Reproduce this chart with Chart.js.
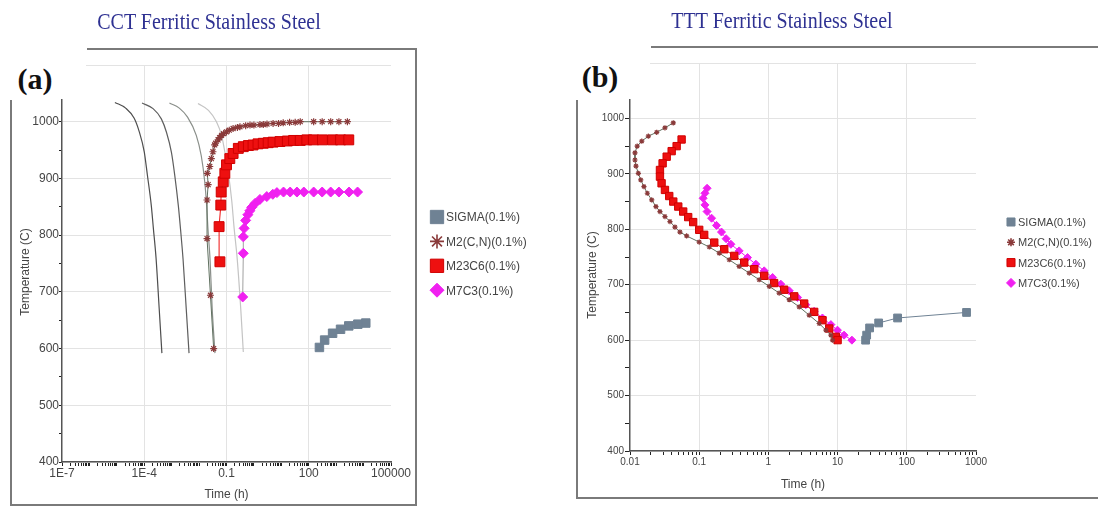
<!DOCTYPE html>
<html>
<head>
<meta charset="utf-8">
<script src="https://cdn.jsdelivr.net/npm/chart.js@4.4.1/dist/chart.umd.min.js"></script>
<style>
  html, body { margin: 0; padding: 0; background: #fff; }
  #page { position: relative; width: 1098px; height: 509px; overflow: hidden; background: #fff; }
  canvas { position: absolute; top: 0; }
  .edge { position: absolute; background: #7a7a7a; }
  .patch { position: absolute; background: #fff; }
  .tag { position: absolute; transform: translate(-50%, -50%); font-family: 'Liberation Serif', 'Times New Roman', serif; font-weight: bold; font-size: 30px; color: #111; }
  .title { position: absolute; transform: translate(-50%, -50%) scaleY(1.12); white-space: nowrap; font-family: 'Liberation Serif', 'Times New Roman', serif; font-size: 20px; color: #2e3192; }
  .ytitle { position: absolute; transform: translate(-50%, -50%) rotate(-90deg); white-space: nowrap; font-family: 'Liberation Sans', Arial, sans-serif; font-size: 12px; color: #444; }
</style>
</head>
<body>
<div id="page">
  <canvas id="cct" width="560" height="509" style="left:0"></canvas>
  <canvas id="ttt" width="538" height="509" style="left:560px"></canvas>

  <div class="patch" style="left:0;top:51px;width:86px;height:48px"></div>
  <div class="patch" style="left:560px;top:49px;width:90px;height:50px"></div>

  <div class="edge" style="left:87px;top:48px;width:330px;height:2px"></div>
  <div class="edge" style="left:415px;top:48px;width:2px;height:458px"></div>
  <div class="edge" style="left:10px;top:504px;width:407px;height:2px"></div>
  <div class="edge" style="left:10px;top:100px;width:2px;height:406px"></div>

  <div class="edge" style="left:651px;top:46px;width:447px;height:2px"></div>
  <div class="edge" style="left:576px;top:100px;width:2px;height:399px"></div>
  <div class="edge" style="left:576px;top:497px;width:522px;height:2px"></div>

  <div class="title" style="left:209px;top:22px">CCT Ferritic Stainless Steel</div>
  <div class="title" style="left:782px;top:21px">TTT Ferritic Stainless Steel</div>
  <div class="tag" style="left:35px;top:79px">(a)</div>
  <div class="tag" style="left:600px;top:77px">(b)</div>
  <div class="ytitle" style="left:25px;top:272px">Temperature (C)</div>
  <div class="ytitle" style="left:592px;top:275px">Temperature (C)</div>
</div>

<script>
// series names (legend order)
const seriesNames = ["SIGMA(0.1%)", "M2(C,N)(0.1%)", "M23C6(0.1%)", "M7C3(0.1%)"];

// axis ticks
const tempTicks = [400, 500, 600, 700, 800, 900, 1000];
const cctTickValues = [1e-7, 1e-4, 0.1, 100, 1e5];
const cctTickLabels = ["1E-7", "1E-4", "0.1", "100", "100000"];
const cctGridValues = [1e-4, 0.1, 100];
const tttTickValues = [0.01, 0.1, 1, 10, 100, 1000];
const tttTickLabels = ["0.01", "0.1", "1", "10", "100", "1000"];
const tttGridValues = [0.1, 1, 10, 100];

// CCT: [time (h), temperature (C)]
const cctCool1 = [[8.5e-6, 1034], [2.1e-5, 1024], [4.3e-5, 1006], [6.6e-5, 982], [1.0e-4, 947], [1.3e-4, 906], [1.8e-4, 853], [2.15e-4, 812], [2.7e-4, 759], [3.5e-4, 671], [4.4e-4, 592]];
const cctCool2 = [[8.3e-5, 1033], [2.1e-4, 1023], [4.2e-4, 1005], [6.5e-4, 981], [9.8e-4, 946], [1.3e-3, 905], [1.75e-3, 852], [2.1e-3, 811], [2.6e-3, 758], [3.4e-3, 670], [4.3e-3, 592]];
const cctCool3 = [[8.3e-4, 1033], [1.9e-3, 1024], [3.8e-3, 1008], [7.9e-3, 976], [0.012, 940], [0.016, 895], [0.019, 850], [0.021, 812], [0.025, 759], [0.030, 671], [0.038, 592]];
const cctCool4 = [[0.0091, 1032], [0.022, 1020], [0.043, 1000], [0.066, 976], [0.087, 947], [0.115, 912], [0.155, 861], [0.19, 812], [0.245, 759], [0.33, 671], [0.41, 594]];

const cctSigma = [[245, 602], [380, 615], [741, 627], [1445, 634], [2884, 640], [6166, 643], [12023, 645]];
const cctM2 = [[0.034, 600], [0.026, 694], [0.0195, 794], [0.0195, 862], [0.0214, 889], [0.020, 909], [0.0245, 921], [0.028, 935], [0.032, 947], [0.037, 959], [0.040, 962], [0.049, 968], [0.056, 972], [0.066, 976], [0.079, 979], [0.1, 982], [0.126, 985], [0.174, 988], [0.25, 990], [0.31, 991], [0.5, 993], [0.72, 994], [1.0, 994], [1.66, 995], [2.2, 995], [3.0, 996], [5.0, 997], [7.9, 997], [11.7, 998], [20, 999], [32, 999], [49, 1000], [151, 1000], [309, 1000], [631, 1000], [1259, 1000], [2570, 1000]];
const cctM23C6 = [[0.0575, 753], [0.0537, 815], [0.062, 853], [0.064, 876], [0.076, 894], [0.087, 909], [0.1, 924], [0.132, 935], [0.174, 944], [0.27, 953], [0.41, 956], [0.63, 958], [0.93, 959], [1.41, 961], [2.19, 962], [3.31, 963], [5.0, 964], [8.9, 965], [16.6, 966], [28, 967], [49, 967], [85, 968], [148, 968], [316, 968], [741, 968], [1445, 968], [2884, 968]];
const cctM7C3 = [[0.39, 691], [0.41, 768], [0.41, 797], [0.44, 812], [0.50, 826], [0.60, 836], [0.71, 843], [0.83, 849], [1.1, 856], [1.66, 863], [2.95, 868], [4.9, 872], [6.9, 875], [12, 876], [21, 876], [37, 876], [66, 876], [151, 876], [309, 876], [631, 876], [1259, 876], [2951, 876], [6026, 876]];

// TTT: [time (h), temperature (C)]
const tttSigma = [[25.4, 600], [26.3, 609], [29.0, 622], [39.2, 631], [73.6, 640], [730, 650]];
const tttM2 = [[0.0422, 992], [0.0320, 983], [0.0243, 975], [0.0184, 968], [0.0148, 959], [0.0127, 950], [0.0118, 938], [0.0118, 925], [0.0122, 914], [0.0132, 901], [0.0143, 889], [0.0159, 877], [0.0178, 865], [0.0206, 853], [0.0237, 841], [0.0271, 832], [0.0320, 823], [0.0378, 814], [0.0446, 804], [0.0527, 795], [0.0658, 788], [0.1, 777], [0.140, 768], [0.195, 757], [0.272, 745], [0.378, 733], [0.528, 721], [0.736, 709], [1.03, 697], [1.43, 685], [2.0, 673], [2.79, 660], [3.89, 645], [5.42, 630], [6.78, 618], [8.0, 609], [8.45, 600]];
const tttM23C6 = [[0.0557, 962], [0.0472, 950], [0.040, 941], [0.0339, 931], [0.0296, 919], [0.0271, 907], [0.0271, 895], [0.0286, 883], [0.0320, 871], [0.0369, 860], [0.0422, 850], [0.0498, 841], [0.0587, 832], [0.0693, 822], [0.0818, 813], [0.1, 799], [0.118, 790], [0.165, 776], [0.230, 764], [0.321, 752], [0.447, 740], [0.624, 728], [0.869, 716], [1.21, 703], [1.69, 691], [2.36, 679], [3.29, 666], [4.59, 651], [6.05, 636], [7.57, 621], [9.44, 606], [10, 600]];
const tttM7C3 = [[0.130, 874], [0.121, 865], [0.114, 856], [0.121, 844], [0.130, 832], [0.151, 820], [0.178, 807], [0.210, 795], [0.245, 783], [0.287, 773], [0.378, 761], [0.499, 749], [0.659, 737], [0.869, 725], [1.15, 713], [1.51, 701], [2.0, 689], [2.64, 677], [3.47, 664], [4.58, 652], [6.04, 640], [8.0, 628], [9.95, 618], [12.4, 609], [16.1, 600]];

Chart.defaults.font.family = "'Liberation Sans', Arial, Helvetica, sans-serif";
Chart.defaults.color = "#444";

const SIGMA_COLOR = "#6f8294";
const M2_COLOR = "#8a3a3a";
const M2_LINE = "#5f705f";
const M23_COLOR = "#ee1010";
const M7_COLOR = "#f020f0";

function pts(list) {
  return list.map((p) => ({ x: p[0], y: p[1] }));
}

// minor ticks 1..9 in every decade
function decadeTicks(fromExp, toExp) {
  const out = [];
  for (let e = fromExp; e < toExp; e++) {
    for (let m = 1; m < 10; m++) out.push({ value: m * Math.pow(10, e) });
  }
  out.push({ value: Math.pow(10, toExp) });
  return out;
}

function sameValue(a, b) {
  return Math.abs(Math.log10(a / b)) < 1e-6;
}

function seriesSets(d, r) {
  return [
    {
      label: seriesNames[1], data: pts(d.m2), showLine: true,
      borderColor: M2_LINE, borderWidth: 1,
      pointStyle: "star", pointRadius: r.m2, pointBorderWidth: 1.2,
      pointBorderColor: M2_COLOR, pointBackgroundColor: M2_COLOR,
    },
    {
      label: seriesNames[2], data: pts(d.m23), showLine: true,
      borderColor: M23_COLOR, borderWidth: 1,
      pointStyle: "rect", pointRadius: r.m23, pointBorderWidth: 1,
      pointBorderColor: "#d00000", pointBackgroundColor: M23_COLOR,
    },
    {
      label: seriesNames[3], data: pts(d.m7), showLine: true,
      borderColor: r.m7Line, borderWidth: 1,
      pointStyle: "rectRot", pointRadius: r.m7, pointBorderWidth: 1,
      pointBorderColor: M7_COLOR, pointBackgroundColor: M7_COLOR,
    },
    {
      label: seriesNames[0], data: pts(d.sigma), showLine: true,
      borderColor: SIGMA_COLOR, borderWidth: 1,
      pointStyle: "rect", pointRadius: r.sigma, pointBorderWidth: 1,
      pointBorderColor: SIGMA_COLOR, pointBackgroundColor: SIGMA_COLOR,
    },
  ];
}

function coolingSet(data, color) {
  return {
    label: "", data: pts(data), showLine: true, cubicInterpolationMode: "monotone",
    borderColor: color, borderWidth: 1.2, pointRadius: 0,
  };
}

const sideLegend = {
  id: "sideLegend",
  afterDraw(chart, args, opts) {
    const ctx = chart.ctx;
    ctx.save();
    ctx.font = opts.font;
    ctx.textBaseline = "middle";
    seriesNames.forEach((name, i) => {
      const ds = chart.data.datasets.find((d) => d.label === name);
      const y = opts.top + i * opts.gap;
      const style = ds.pointStyle;
      ctx.fillStyle = ds.pointBackgroundColor;
      ctx.strokeStyle = ds.pointBorderColor;
      ctx.lineWidth = style === "star" ? 1.6 : 1;
      Chart.helpers.drawPoint(ctx, {
        pointStyle: style, rotation: 0, borderWidth: 1,
        radius: opts.radius[style],
      }, opts.x, y);
      ctx.fillStyle = "#444";
      ctx.fillText(name, opts.textX, y + 1);
    });
    ctx.restore();
  },
};

function buildOptions(cfg) {
  return {
    responsive: false,
    animation: false,
    events: [],
    layout: { autoPadding: false, padding: cfg.padding },
    plugins: {
      legend: { display: false },
      tooltip: { enabled: false },
      sideLegend: cfg.legend,
    },
    scales: {
      x: {
        type: "logarithmic",
        min: cfg.xMin,
        max: cfg.xMax,
        afterBuildTicks: (scale) => { scale.ticks = decadeTicks(cfg.expFrom, cfg.expTo); },
        afterFit: (scale) => { scale.height = cfg.xHeight; },
        ticks: {
          autoSkip: false, maxRotation: 0, minRotation: 0,
          padding: cfg.xPad, color: "#444",
          font: { size: cfg.tickSize },
          callback: (v) => {
            const k = cfg.tickValues.findIndex((t) => sameValue(v, t));
            return k < 0 ? "" : cfg.tickLabels[k];
          },
        },
        grid: {
          color: (c) => (c.tick && cfg.gridValues.some((t) => sameValue(c.tick.value, t)) ? "#e3e3e3" : "rgba(0,0,0,0)"),
          tickColor: "#222",
          tickLength: 4,
          lineWidth: 1,
        },
        border: { color: "#555", width: 1.5 },
        title: { display: true, text: "Time (h)", color: "#444", font: { size: 12 }, padding: { top: 0, bottom: cfg.xTitlePad } },
      },
      y: {
        type: "linear",
        min: 400,
        max: 1100,
        afterFit: (scale) => { scale.width = cfg.yWidth; },
        ticks: {
          stepSize: 50, autoSkip: false, padding: cfg.yPad, color: "#444",
          font: { size: cfg.tickSize },
          callback: (v) => (tempTicks.includes(v) ? String(v) : ""),
        },
        grid: {
          color: (c) => (c.tick && c.tick.value % 100 === 0 ? "#e3e3e3" : "rgba(0,0,0,0)"),
          tickColor: "#222",
          tickLength: cfg.yTick,
        },
        border: { color: "#555", width: 1.5 },
      },
    },
  };
}

new Chart(document.getElementById("cct"), {
  type: "scatter",
  data: {
    datasets: [
      ...seriesSets(
        { m2: cctM2, m23: cctM23C6, m7: cctM7C3, sigma: cctSigma },
        { m2: 3.5, m23: 7, m7: 5, sigma: 6, m7Line: "#a0a0a0" }
      ),
      coolingSet(cctCool1, "#4e4e4e"),
      coolingSet(cctCool2, "#5e5e5e"),
      coolingSet(cctCool3, "#8a8f8a"),
      coolingSet(cctCool4, "#c4c4c4"),
    ],
  },
  options: buildOptions({
    padding: { left: 0, right: 169, top: 65, bottom: 0 },
    xMin: 1e-7, xMax: 1e5, expFrom: -7, expTo: 5,
    xHeight: 47, yWidth: 62, xPad: 0, yPad: 0, yTick: 3, xTitlePad: 7,
    tickSize: 12,
    tickValues: cctTickValues, tickLabels: cctTickLabels, gridValues: cctGridValues,
    legend: {
      x: 437, textX: 446, top: 217, gap: 24.4, font: "12px 'Liberation Sans', Arial, sans-serif",
      radius: { rect: 9.4, star: 7, rectRot: 7 },
    },
  }),
  plugins: [sideLegend],
});

new Chart(document.getElementById("ttt"), {
  type: "scatter",
  data: {
    datasets: seriesSets(
      { m2: tttM2, m23: tttM23C6, m7: tttM7C3, sigma: tttSigma },
      { m2: 2.6, m23: 5.2, m7: 4, sigma: 5.5, m7Line: M7_COLOR }
    ),
  },
  options: buildOptions({
    padding: { left: 0, right: 122, top: 63, bottom: 0 },
    xMin: 0.01, xMax: 1000, expFrom: -2, expTo: 3,
    xHeight: 58, yWidth: 70, xPad: 1, yPad: 1, yTick: 5, xTitlePad: 17,
    tickSize: 10,
    tickValues: tttTickValues, tickLabels: tttTickLabels, gridValues: tttGridValues,
    legend: {
      x: 451, textX: 458, top: 222, gap: 20.3, font: "11px 'Liberation Sans', Arial, sans-serif",
      radius: { rect: 5.7, star: 4, rectRot: 4.5 },
    },
  }),
  plugins: [sideLegend],
});
</script>
</body>
</html>
